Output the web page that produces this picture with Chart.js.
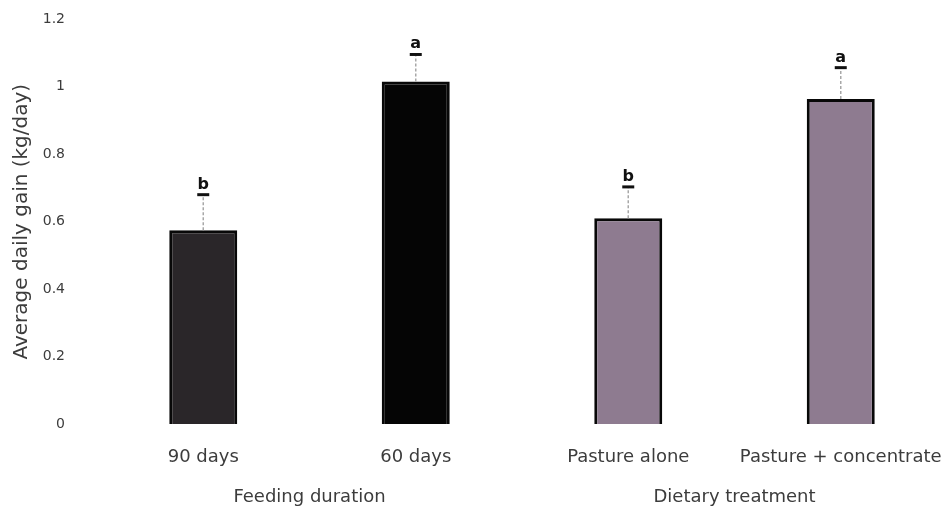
<!DOCTYPE html>
<html>
<head>
<meta charset="utf-8">
<script src="https://cdn.jsdelivr.net/npm/chart.js@4.4.1/dist/chart.umd.min.js"></script>
<style>
  html, body { margin: 0; padding: 0; background: #ffffff; }
  #wrap { width: 947px; height: 509px; }
</style>
</head>
<body>
<div id="wrap"><canvas id="c" width="947" height="509"></canvas></div>
<script>
const categories = ['90 days', '60 days', 'Pasture alone', 'Pasture + concentrate'];
const adg = [0.575, 1.015, 0.61, 0.963];
const errors = [0.105, 0.08, 0.093, 0.093];
const letters = ['b', 'a', 'b', 'a'];
const groups = ['Feeding duration', 'Dietary treatment'];
const groupMembers = [[0, 1], [2, 3]];
const barColors = ['#2a2629', '#050505', '#8e7b90', '#8e7b90'];

const FONT = '"DejaVu Sans", "Liberation Sans", sans-serif';
const TXT = '#3c3c3c';

const errorBarPlugin = {
  id: 'errorBars',
  afterDatasetsDraw(chart) {
    const ctx = chart.ctx;
    const meta = chart.getDatasetMeta(0);
    const y = chart.scales.y;
    meta.data.forEach((bar, i) => {
      const x = bar.x;
      const yTop = y.getPixelForValue(adg[i] + errors[i]);
      const yBar = y.getPixelForValue(adg[i]);
      ctx.save();
      ctx.strokeStyle = '#a8a8a8';
      ctx.lineWidth = 1.5;
      ctx.setLineDash([3, 2]);
      ctx.beginPath();
      ctx.moveTo(x, yBar);
      ctx.lineTo(x, yTop);
      ctx.stroke();
      ctx.setLineDash([]);
      ctx.strokeStyle = '#111';
      ctx.lineWidth = 3;
      ctx.beginPath();
      ctx.moveTo(x - 6, yTop);
      ctx.lineTo(x + 6, yTop);
      ctx.stroke();
      ctx.fillStyle = '#111';
      ctx.font = 'bold 16px ' + FONT;
      ctx.textAlign = 'center';
      ctx.textBaseline = 'alphabetic';
      ctx.fillText(letters[i], x, yTop - 6);
      ctx.restore();
    });
  }
};

const groupLabelPlugin = {
  id: 'groupLabels',
  afterDraw(chart) {
    const ctx = chart.ctx;
    const xs = chart.scales.x;
    ctx.save();
    ctx.fillStyle = TXT;
    ctx.font = '18px ' + FONT;
    ctx.textAlign = 'center';
    ctx.textBaseline = 'middle';
    groups.forEach((g, k) => {
      const m = groupMembers[k];
      const cx = (xs.getPixelForValue(m[0]) + xs.getPixelForValue(m[1])) / 2;
      ctx.fillText(g, cx, 497);
    });
    ctx.restore();
  }
};

new Chart(document.getElementById('c'), {
  type: 'bar',
  data: {
    labels: categories,
    datasets: [{
      data: adg,
      backgroundColor: barColors,
      borderColor: '#080808',
      borderWidth: 3,
      barPercentage: 0.32,
      categoryPercentage: 1.0
    }]
  },
  options: {
    responsive: false,
    animation: false,
    layout: { padding: { top: 19, right: 0, bottom: 41, left: 10 } },
    plugins: { legend: { display: false }, tooltip: { enabled: false } },
    scales: {
      x: {
        grid: { display: true, drawOnChartArea: false, drawTicks: true, tickLength: 22, color: 'rgba(0,0,0,0)' },
        border: { display: false },
        ticks: { color: TXT, font: { family: FONT, size: 18 }, padding: 0, maxRotation: 0, autoSkip: false }
      },
      y: {
        min: 0,
        max: 1.2,
        grid: { display: true, drawOnChartArea: false, drawTicks: true, tickLength: 32, color: 'rgba(0,0,0,0)' },
        border: { display: false },
        ticks: {
          stepSize: 0.2, color: TXT, font: { family: FONT, size: 14 }, padding: 0,
          callback: (v) => String(Math.round(v * 10) / 10)
        },
        title: { display: true, text: 'Average daily gain (kg/day)', color: TXT, font: { family: FONT, size: 20 }, padding: { top: 0, bottom: 0 } },
        afterFit(scale) { scale.width = 87; }
      }
    }
  },
  plugins: [errorBarPlugin, groupLabelPlugin]
});
</script>
</body>
</html>
